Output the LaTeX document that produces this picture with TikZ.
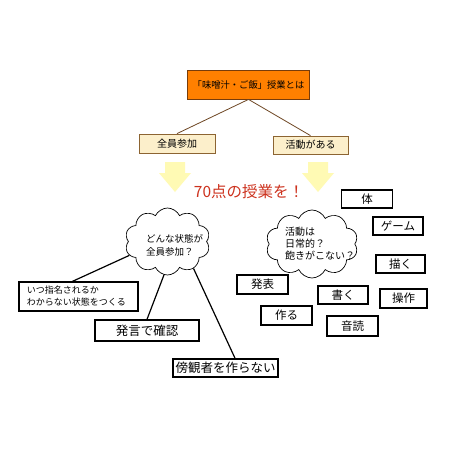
\documentclass[tikz,border=0pt]{standalone}
\usepackage{fontspec}
\setmainfont{Noto Sans CJK JP}
\usetikzlibrary{shapes.symbols,calc}
\definecolor{orangefill}{RGB}{255,128,0}
\definecolor{orangeline}{RGB}{120,60,10}
\definecolor{tanfill}{RGB}{252,239,203}
\definecolor{tanline}{RGB}{140,100,50}
\definecolor{treeline}{RGB}{110,70,35}
\definecolor{paleyellow}{RGB}{255,250,180}
\definecolor{redtext}{RGB}{205,50,30}
\begin{document}
\begin{tikzpicture}[x=1pt,y=-1pt,
  topbox/.style={draw=orangeline,fill=orangefill,line width=0.8pt,inner sep=0pt,font=\fontsize{9.3}{11}\selectfont},
  tanbox/.style={draw=tanline,fill=tanfill,line width=0.8pt,inner sep=0pt,font=\fontsize{10}{12}\selectfont},
  bbox/.style={draw=black,fill=white,line width=1.3pt,inner sep=0pt},
  bigtxt/.style={font=\fontsize{12.5}{14}\selectfont},
  midtxt/.style={font=\fontsize{11.5}{13}\selectfont},
  cloudshape/.style={draw=black,fill=white,line width=0.7pt,cloud,cloud puffs=10,cloud puff arc=130,cloud ignores aspect,inner sep=0pt},
  tree/.style={draw=treeline,line width=0.8pt},
  conn/.style={draw=black,line width=1.2pt},
  fatarrow/.style={fill=paleyellow}
]
\useasboundingbox (0,0) rectangle (450,450);
\fill[white] (0,0) rectangle (450,450);

% top box and tan boxes
\node[topbox,minimum width=122,minimum height=29] (top) at (248.5,84.5) {「味噌汁・ご飯」授業とは};
\node[tanbox,minimum width=76,minimum height=19] (all) at (177,143.5) {全員参加};
\node[tanbox,minimum width=75,minimum height=18] (act) at (310.5,145) {活動がある};
\draw[tree] (top.south) -- (all.north);
\draw[tree] (top.south) -- (act.north);

% pale arrows
\fill[fatarrow] (165,162) -- (185,162) -- (185,173) -- (191,173) -- (175,192) -- (159,173) -- (165,173) -- cycle;
\fill[fatarrow] (308,162) -- (328,162) -- (328,173) -- (334,173) -- (318,192) -- (302,173) -- (308,173) -- cycle;

\node[text=redtext,font=\fontsize{15.5}{17}\selectfont,inner sep=0pt] (goal) at (249,192) {70点の授業を！};

% left cloud
\node[cloudshape,minimum width=85,minimum height=67] (cl) at (167.5,241.5) {};
\node[align=left,anchor=west,inner sep=0pt,font=\fontsize{9.5}{12.5}\selectfont] (cltext) at (146,245.5) {どんな状態が\\全員参加？};

% right cloud
\node[cloudshape,minimum width=92,minimum height=68] (cr) at (312,244) {};
\node[align=left,anchor=west,inner sep=0pt,font=\fontsize{10}{11.8}\selectfont] (crtext) at (285,243.5) {活動は\\日常的？\\飽きがこない？};

% left boxes
\node[bbox,minimum height=29,text width=103,inner xsep=8pt,align=left,font=\fontsize{9}{12}\selectfont] (b1) at (78.5,296.5) {いつ指名されるか\\わからない状態をつくる};
\node[bbox,bigtxt,minimum width=104,minimum height=21] (b2) at (147,330.5) {発言で確認};
\node[bbox,bigtxt,minimum width=105,minimum height=18] (b3) at (225.5,368) {傍観者を作らない};

\draw[conn] (cl.200) -- ($(b1.north west)!0.45!(b1.north east)$);
\draw[conn] (cl.264) -- (b2.north);
\draw[conn] (cl.314) -- ($(b3.north west)!0.59!(b3.north east)$);

% right boxes
\node[bbox,midtxt,minimum width=51,minimum height=18] (k1) at (367,199) {体};
\node[bbox,midtxt,minimum width=50,minimum height=18] (k2) at (398,226) {ゲーム};
\node[bbox,midtxt,minimum width=49,minimum height=18] (k3) at (400.5,264) {描く};
\node[bbox,midtxt,minimum width=51,minimum height=19] (k4) at (262.5,284.5) {発表};
\node[bbox,midtxt,minimum width=50,minimum height=18] (k5) at (343,295) {書く};
\node[bbox,midtxt,minimum width=47,minimum height=19] (k6) at (403.5,298.5) {操作};
\node[bbox,midtxt,minimum width=51,minimum height=19] (k7) at (286.5,315.5) {作る};
\node[bbox,midtxt,minimum width=51,minimum height=20] (k8) at (352.5,326) {音読};
\end{tikzpicture}
\end{document}
